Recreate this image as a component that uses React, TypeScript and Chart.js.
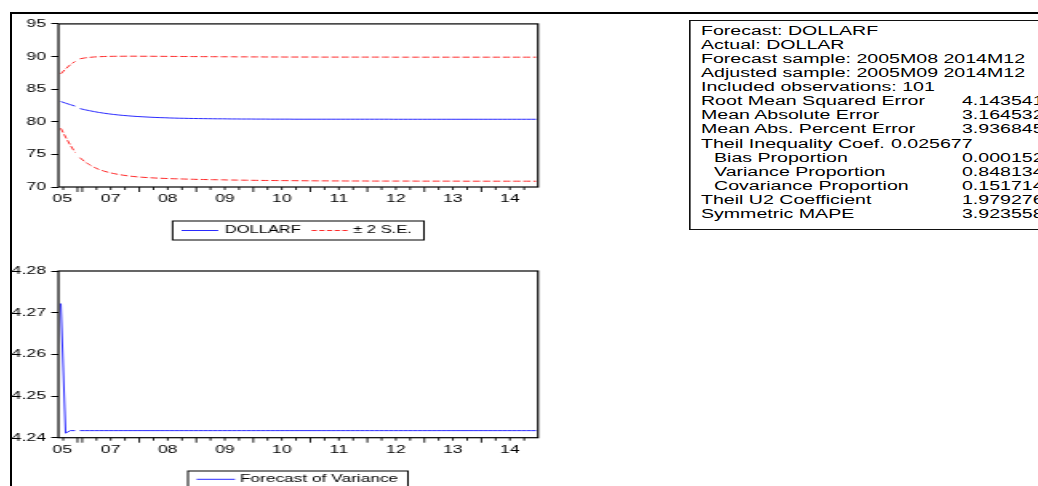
import React, { useEffect, useRef } from "react";
import { Chart, registerables } from "chart.js";

Chart.register(...registerables);

// ---------------- data ----------------
const BREAK_AFTER = 3; // missing observation between index 3 and 4

const X_TICK_LABELS = ["05", "07", "08", "09", "10", "11", "12", "13", "14"];
const X_LABEL_POS = [0.3, 10.5, 22.5, 34.5, 46.5, 58.5, 70.5, 82.5, 94.5];
const X_MAJOR_TICKS = [3.5, 4.5, 16.5, 28.5, 40.5, 52.5, 64.5, 76.5, 88.5];
const X_MINOR_TICKS = [
  0.5, 7.5, 10.5, 13.5, 19.5, 22.5, 25.5, 31.5, 34.5, 37.5, 43.5, 46.5, 49.5,
  55.5, 58.5, 61.5, 67.5, 70.5, 73.5, 79.5, 82.5, 85.5, 91.5, 94.5, 97.5,
];

const TOP_Y_TICKS = [70, 75, 80, 85, 90, 95];
const BOT_Y_TICKS = [4.24, 4.25, 4.26, 4.27, 4.28];

const DOLLARF = [
  83.1, 82.85, 82.62, 82.4, 82.02, 81.85, 81.7, 81.56, 81.43, 81.32,
  81.22, 81.13, 81.05, 80.98, 80.92, 80.86, 80.81, 80.77, 80.73, 80.69,
  80.66, 80.63, 80.61, 80.58, 80.56, 80.54, 80.53, 80.51, 80.5, 80.49,
  80.48, 80.47, 80.46, 80.45, 80.45, 80.44, 80.43, 80.43, 80.42, 80.42,
  80.42, 80.41, 80.41, 80.41, 80.4, 80.4, 80.4, 80.4, 80.4, 80.39,
  80.39, 80.39, 80.39, 80.39, 80.39, 80.39, 80.39, 80.39, 80.39, 80.39,
  80.39, 80.39, 80.39, 80.39, 80.39, 80.39, 80.39, 80.39, 80.39, 80.39,
  80.38, 80.38, 80.38, 80.38, 80.38, 80.38, 80.38, 80.38, 80.38, 80.38,
  80.38, 80.38, 80.38, 80.38, 80.38, 80.38, 80.38, 80.38, 80.38, 80.38,
  80.38, 80.38, 80.38, 80.38, 80.38, 80.38, 80.38, 80.38, 80.38, 80.38,
  80.38,
];

const SE_UPPER = [
  87.35, 88.1, 88.75, 89.25, 89.65, 89.78, 89.87, 89.93, 89.97, 90.0,
  90.02, 90.03, 90.04, 90.04, 90.05, 90.05, 90.05, 90.04, 90.04, 90.04,
  90.03, 90.03, 90.02, 90.02, 90.01, 90.01, 90.0, 90.0, 89.99, 89.99,
  89.98, 89.98, 89.97, 89.97, 89.96, 89.96, 89.96, 89.95, 89.95, 89.95,
  89.94, 89.94, 89.94, 89.93, 89.93, 89.93, 89.93, 89.92, 89.92, 89.92,
  89.92, 89.92, 89.92, 89.92, 89.92, 89.91, 89.91, 89.91, 89.91, 89.91,
  89.91, 89.91, 89.91, 89.91, 89.91, 89.91, 89.91, 89.91, 89.91, 89.91,
  89.9, 89.9, 89.9, 89.9, 89.9, 89.9, 89.9, 89.9, 89.9, 89.9,
  89.9, 89.9, 89.9, 89.9, 89.9, 89.9, 89.9, 89.9, 89.9, 89.9,
  89.9, 89.9, 89.9, 89.9, 89.9, 89.9, 89.9, 89.9, 89.9, 89.9,
  89.9,
];

const SE_LOWER = [
  79.0, 77.65, 76.4, 75.3, 74.5, 73.9, 73.42, 73.02, 72.7, 72.45,
  72.25, 72.08, 71.94, 71.82, 71.72, 71.63, 71.56, 71.5, 71.45, 71.41,
  71.37, 71.34, 71.31, 71.28, 71.26, 71.24, 71.22, 71.2, 71.18, 71.16,
  71.15, 71.13, 71.12, 71.11, 71.1, 71.08, 71.07, 71.06, 71.05, 71.04,
  71.03, 71.02, 71.01, 71.0, 71.0, 70.99, 70.98, 70.98, 70.97, 70.97,
  70.96, 70.96, 70.95, 70.95, 70.94, 70.94, 70.94, 70.93, 70.93, 70.93,
  70.92, 70.92, 70.92, 70.92, 70.92, 70.91, 70.91, 70.91, 70.91, 70.91,
  70.91, 70.91, 70.91, 70.91, 70.91, 70.9, 70.9, 70.9, 70.9, 70.9,
  70.9, 70.9, 70.9, 70.9, 70.9, 70.89, 70.89, 70.89, 70.89, 70.89,
  70.89, 70.89, 70.89, 70.89, 70.89, 70.89, 70.89, 70.89, 70.89, 70.89,
  70.88,
];

const VARIANCE = [
  4.2722, 4.2411, 4.2417, 4.2417, 4.2417, 4.2417, 4.2417, 4.2417, 4.2417, 4.2417,
  4.2417, 4.2417, 4.2417, 4.2417, 4.2417, 4.2417, 4.2417, 4.2417, 4.2417, 4.2417,
  4.2417, 4.2417, 4.2417, 4.2417, 4.2417, 4.2417, 4.2417, 4.2417, 4.2417, 4.2417,
  4.2417, 4.2417, 4.2417, 4.2417, 4.2417, 4.2417, 4.2417, 4.2417, 4.2417, 4.2417,
  4.2417, 4.2417, 4.2417, 4.2417, 4.2417, 4.2417, 4.2417, 4.2417, 4.2417, 4.2417,
  4.2417, 4.2417, 4.2417, 4.2417, 4.2417, 4.2417, 4.2417, 4.2417, 4.2417, 4.2417,
  4.2417, 4.2417, 4.2417, 4.2417, 4.2417, 4.2417, 4.2417, 4.2417, 4.2417, 4.2417,
  4.2417, 4.2417, 4.2417, 4.2417, 4.2417, 4.2417, 4.2417, 4.2417, 4.2417, 4.2417,
  4.2417, 4.2417, 4.2417, 4.2417, 4.2417, 4.2417, 4.2417, 4.2417, 4.2417, 4.2417,
  4.2417, 4.2417, 4.2417, 4.2417, 4.2417, 4.2417, 4.2417, 4.2417, 4.2417, 4.2417,
  4.2417,
];

const STAT_HEADER = [
  "Forecast: DOLLARF",
  "Actual: DOLLAR",
  "Forecast sample: 2005M08 2014M12",
  "Adjusted sample: 2005M09 2014M12",
  "Included observations: 101",
];
const STAT_NAMES = [
  "Root Mean Squared Error",
  "Mean Absolute Error",
  "Mean Abs. Percent Error",
  "Theil Inequality Coef.",
  "Bias Proportion",
  "Variance Proportion",
  "Covariance Proportion",
  "Theil U2 Coefficient",
  "Symmetric MAPE",
];
const STAT_VALUES = [
  "4.143541",
  "3.164532",
  "3.936845",
  "0.025677",
  "0.000152",
  "0.848134",
  "0.151714",
  "1.979276",
  "3.923558",
];
const STAT_INDENTED = [false, false, false, false, true, true, true, false, false];
const STAT_NEAR_COL = [false, false, false, true, false, false, false, false, false];

// ---------------- styling ----------------
const BOX_SX = 1.63; // horizontal stretch of the statistics box text
const FONT = '"Liberation Sans", Arial, Helvetica, sans-serif';
const AXIS_FONT_SIZE = 11;
const BLUE = "#2a2aff";
const RED = "#ff2a2a";

function toPoints(vals: number[]) {
  const pts: { x: number; y: number | null }[] = [];
  vals.forEach((v, i) => {
    pts.push({ x: i, y: v });
    if (i === BREAK_AFTER) pts.push({ x: i + 0.5, y: null });
  });
  return pts;
}

const boxPlugin = {
  id: "plotBox",
  afterDatasetsDraw(chart: any) {
    const { ctx, chartArea: a } = chart;
    ctx.save();
    ctx.strokeStyle = "#000";
    ctx.lineWidth = 1.2;
    ctx.strokeRect(a.left, a.top, a.right - a.left, a.bottom - a.top);
    ctx.restore();
  },
};

const xTickPlugin = {
  id: "xTickMarks",
  afterDraw(chart: any) {
    const { ctx, chartArea: a, scales } = chart;
    const x = scales.x;
    ctx.save();
    ctx.strokeStyle = "#000";
    ctx.lineWidth = 0.9;
    ctx.beginPath();
    for (const v of X_MAJOR_TICKS) {
      const px = x.getPixelForValue(v);
      ctx.moveTo(px, a.bottom);
      ctx.lineTo(px, a.bottom + 5);
    }
    for (const v of X_MINOR_TICKS) {
      const px = x.getPixelForValue(v);
      ctx.moveTo(px, a.bottom);
      ctx.lineTo(px, a.bottom + 3);
    }
    ctx.stroke();
    ctx.restore();
  },
};

const legendBoxPlugin = {
  id: "legendBox",
  afterDraw(chart: any, _args: any, opts: any) {
    if (!opts || !opts.items) return;
    const { ctx } = chart;
    const [bx, by, bw, bh] = opts.box;
    ctx.save();
    ctx.fillStyle = "#fff";
    ctx.fillRect(bx, by, bw, bh);
    ctx.strokeStyle = "#000";
    ctx.lineWidth = 1;
    ctx.strokeRect(bx, by, bw, bh);
    ctx.font = `${opts.fontSize}px ${FONT}`;
    ctx.textBaseline = "middle";
    ctx.textAlign = "left";
    for (const it of opts.items) {
      const ds = chart.data.datasets[it.ds];
      ctx.strokeStyle = ds.borderColor;
      ctx.lineWidth = 1;
      ctx.setLineDash(it.dash || []);
      ctx.beginPath();
      ctx.moveTo(it.x1, opts.textY);
      ctx.lineTo(it.x2, opts.textY);
      ctx.stroke();
      ctx.setLineDash([]);
      ctx.fillStyle = "#000";
      ctx.fillText(ds.label, it.tx, opts.textY);
    }
    ctx.restore();
  },
};

function makeConfig(
  datasets: any[],
  yMin: number,
  yMax: number,
  yTicks: number[],
  yFmt: (v: number) => string,
  padTop: number,
  xAxisHeight: number,
  legend: any
) {
  return {
    type: "line",
    data: { datasets },
    options: {
      animation: false,
      responsive: false,
      events: [],
      spanGaps: false,
      layout: { padding: { left: 0, top: padTop, right: 21.25, bottom: 0 } },
      plugins: {
        legend: { display: false },
        tooltip: { enabled: false },
        legendBox: legend,
      },
      scales: {
        x: {
          type: "linear",
          min: -0.5,
          max: 100.4,
          afterBuildTicks: (s: any) => {
            s.ticks = X_LABEL_POS.map((v) => ({ value: v }));
          },
          afterFit: (s: any) => {
            s.height = xAxisHeight;
            s.paddingLeft = 0;
            s.paddingRight = 0;
          },
          grid: { display: false, drawTicks: false },
          border: { display: false },
          ticks: {
            autoSkip: false,
            maxRotation: 0,
            minRotation: 0,
            padding: 5.4,
            color: "#000",
            font: { family: FONT, size: AXIS_FONT_SIZE },
            callback: (_v: any, i: number) => X_TICK_LABELS[i],
          },
        },
        y: {
          type: "linear",
          min: yMin,
          max: yMax,
          afterBuildTicks: (s: any) => {
            s.ticks = yTicks.map((v) => ({ value: v }));
          },
          afterFit: (s: any) => {
            s.width = 29.06;
          },
          grid: {
            drawOnChartArea: false,
            drawTicks: true,
            tickLength: 4.5,
            color: "#000",
            tickColor: "#000",
            lineWidth: 1,
          },
          border: { display: false },
          ticks: {
            padding: 3.3,
            color: "#000",
            font: { family: FONT, size: AXIS_FONT_SIZE },
            callback: (v: any) => yFmt(Number(v)),
          },
        },
      },
    },
    plugins: [boxPlugin, xTickPlugin, legendBoxPlugin],
  } as any;
}

function StatsBox() {
  const rowH = 14.15;
  const valCol = 160.1;
  const nearCol = 116.6;
  const indent = 8;
  return (
    <div
      style={{
        position: "absolute",
        left: 689,
        top: 20,
        width: 320,
        height: 210,
        boxSizing: "border-box",
        borderLeft: "1px solid #111",
        borderTop: "1px solid #111",
        borderBottom: "1px solid #111",
        transform: `scaleX(${BOX_SX})`,
        transformOrigin: "0 0",
        background: "#fff",
        fontFamily: FONT,
        fontSize: 12,
        color: "#000",
        lineHeight: `${rowH}px`,
        paddingTop: 2.5,
        paddingLeft: 6.36,
        whiteSpace: "pre",
      }}
    >
      {STAT_HEADER.map((t, i) => (
        <div key={"h" + i} style={{ height: rowH, position: "relative" }}>
          {t}
        </div>
      ))}
      {STAT_NAMES.map((t, i) => (
        <div key={"s" + i} style={{ height: rowH, position: "relative" }}>
          <span style={{ position: "absolute", left: STAT_INDENTED[i] ? indent : 0 }}>{t}</span>
          <span style={{ position: "absolute", left: STAT_NEAR_COL[i] ? nearCol : valCol }}>
            {STAT_VALUES[i]}
          </span>
        </div>
      ))}
    </div>
  );
}

export default function App() {
  const topRef = useRef<HTMLCanvasElement>(null);
  const botRef = useRef<HTMLCanvasElement>(null);

  useEffect(() => {
    const topCfg = makeConfig(
      [
        {
          label: "DOLLARF",
          data: toPoints(DOLLARF),
          borderColor: BLUE,
          borderWidth: 1,
          pointRadius: 0,
          fill: false,
          tension: 0,
        },
        {
          label: "± 2 S.E.",
          data: toPoints(SE_UPPER),
          borderColor: RED,
          borderWidth: 1,
          borderDash: [4.5, 1.8],
          pointRadius: 0,
          fill: false,
          tension: 0,
        },
        {
          label: "± 2 S.E.",
          data: toPoints(SE_LOWER),
          borderColor: RED,
          borderWidth: 1,
          borderDash: [4.5, 1.8],
          pointRadius: 0,
          fill: false,
          tension: 0,
        },
      ],
      70,
      95,
      TOP_Y_TICKS,
      (v) => String(Math.round(v)),
      6,
      63,
      {
        box: [100.4, 207, 157.1, 19],
        textY: 216.5,
        fontSize: 10.3,
        items: [
          { ds: 0, x1: 106, x2: 128.9, tx: 133.1 },
          { ds: 1, x1: 187.3, x2: 211.25, tx: 213.3, dash: [3.2, 1.6] },
        ],
      }
    );
    const botCfg = makeConfig(
      [
        {
          label: "Forecast of Variance",
          data: toPoints(VARIANCE),
          borderColor: BLUE,
          borderWidth: 1,
          pointRadius: 0,
          fill: false,
          tension: 0,
        },
      ],
      4.24,
      4.28,
      BOT_Y_TICKS,
      (v) => v.toFixed(2),
      21,
      48.3,
      {
        box: [110, 221, 137.5, 30],
        textY: 229.3,
        fontSize: 10.8,
        items: [{ ds: 0, x1: 115.4, x2: 139.4, tx: 142.5 }],
      }
    );
    const top = new Chart(topRef.current as HTMLCanvasElement, topCfg);
    const bot = new Chart(botRef.current as HTMLCanvasElement, botCfg);
    return () => {
      top.destroy();
      bot.destroy();
    };
  }, []);

  return (
    <div
      style={{
        position: "fixed",
        left: 0,
        top: 0,
        width: 1038,
        height: 486,
        overflow: "hidden",
        background: "#fff",
      }}
    >
      <canvas
        ref={topRef}
        width={350}
        height={236}
        style={{ position: "absolute", left: 12, top: 14, width: 560, height: 236 }}
      />
      <canvas
        ref={botRef}
        width={350}
        height={236}
        style={{ position: "absolute", left: 12, top: 250, width: 560, height: 236 }}
      />
      <StatsBox />
      <div
        style={{
          position: "absolute",
          left: 10,
          top: 12,
          width: 2000,
          height: 1000,
          border: "2px solid #000",
          pointerEvents: "none",
        }}
      />
    </div>
  );
}
